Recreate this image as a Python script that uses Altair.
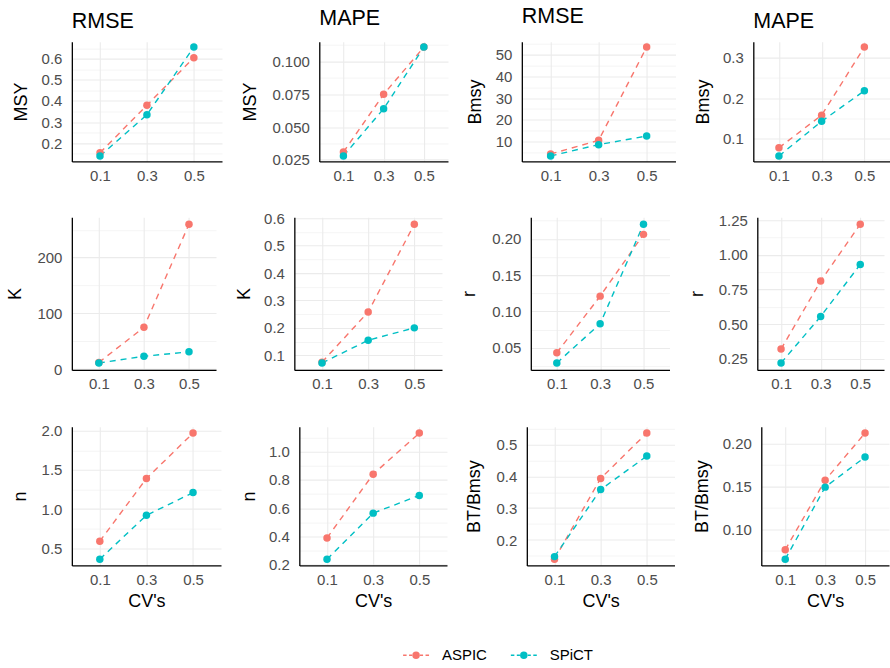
import json
import altair as alt
import pandas as pd

# ---------------- data ----------------
cv = ["0.1", "0.3", "0.5"]
models = ["ASPIC", "SPiCT"]
colors = ["#F8766D", "#00BFC4"]

msy_rmse_aspic = [0.155, 0.380, 0.605]
msy_rmse_spict = [0.140, 0.335, 0.655]
msy_mape_aspic = [0.031, 0.075, 0.111]
msy_mape_spict = [0.028, 0.064, 0.111]
bmsy_rmse_aspic = [4.2, 10.5, 53.5]
bmsy_rmse_spict = [3.3, 8.5, 12.5]
bmsy_mape_aspic = [0.078, 0.158, 0.325]
bmsy_mape_spict = [0.058, 0.143, 0.218]

k_rmse_aspic = [12, 75, 260]
k_rmse_spict = [11, 23, 31]
k_mape_aspic = [0.075, 0.258, 0.578]
k_mape_spict = [0.072, 0.155, 0.200]
r_rmse_aspic = [0.043, 0.121, 0.206]
r_rmse_spict = [0.029, 0.083, 0.220]
r_mape_aspic = [0.32, 0.81, 1.22]
r_mape_spict = [0.22, 0.555, 0.93]

n_rmse_aspic = [0.59, 1.39, 1.97]
n_rmse_spict = [0.36, 0.92, 1.21]
n_mape_aspic = [0.39, 0.84, 1.13]
n_mape_spict = [0.24, 0.565, 0.69]
btb_rmse_aspic = [0.140, 0.393, 0.535]
btb_rmse_spict = [0.148, 0.358, 0.463]
btb_mape_aspic = [0.076, 0.157, 0.212]
btb_mape_spict = [0.065, 0.149, 0.184]

# y tick labels (major breaks) per panel
msy_rmse_ticks = [0.2, 0.3, 0.4, 0.5, 0.6]
msy_mape_ticks = [0.025, 0.05, 0.075, 0.1]
bmsy_rmse_ticks = [10, 20, 30, 40, 50]
bmsy_mape_ticks = [0.1, 0.2, 0.3]
k_rmse_ticks = [0, 100, 200]
k_mape_ticks = [0.1, 0.2, 0.3, 0.4, 0.5, 0.6]
r_rmse_ticks = [0.05, 0.10, 0.15, 0.20]
r_mape_ticks = [0.25, 0.5, 0.75, 1.0, 1.25]
n_rmse_ticks = [0.5, 1.0, 1.5, 2.0]
n_mape_ticks = [0.2, 0.4, 0.6, 0.8, 1.0]
btb_rmse_ticks = [0.2, 0.3, 0.4, 0.5]
btb_mape_ticks = [0.10, 0.15, 0.20]

col_titles = ["RMSE", "MAPE", "RMSE", "MAPE"]

# (y title, ASPIC, SPiCT, y tick labels, label format)
rows = [
    [("MSY", msy_rmse_aspic, msy_rmse_spict, msy_rmse_ticks, ".1f"),
     ("MSY", msy_mape_aspic, msy_mape_spict, msy_mape_ticks, ".3f"),
     ("Bmsy", bmsy_rmse_aspic, bmsy_rmse_spict, bmsy_rmse_ticks, "d"),
     ("Bmsy", bmsy_mape_aspic, bmsy_mape_spict, bmsy_mape_ticks, ".1f")],
    [("K", k_rmse_aspic, k_rmse_spict, k_rmse_ticks, "d"),
     ("K", k_mape_aspic, k_mape_spict, k_mape_ticks, ".1f"),
     ("r", r_rmse_aspic, r_rmse_spict, r_rmse_ticks, ".2f"),
     ("r", r_mape_aspic, r_mape_spict, r_mape_ticks, ".2f")],
    [("n", n_rmse_aspic, n_rmse_spict, n_rmse_ticks, ".1f"),
     ("n", n_mape_aspic, n_mape_spict, n_mape_ticks, ".1f"),
     ("BT/Bmsy", btb_rmse_aspic, btb_rmse_spict, btb_rmse_ticks, ".1f"),
     ("BT/Bmsy", btb_mape_aspic, btb_mape_spict, btb_mape_ticks, ".2f")],
]

# ---------------- layout (pixels) ----------------
PAD_LEFT = 10
SPACING = 19
TITLE_BOX = 27          # y title height + title padding
col_right = [219.5, 445, 673, 888]          # right edge of each column's plot
axis_left = [[69, 316, 519, 751],            # left edge of each plot
             [75, 297, 534, 761],
             [70, 297, 525, 760]]
row_heights = [120, 153, 139]

FONT = "Liberation Sans"
GRID = "#EBEBEB"
LABEL_FS = 15
TITLE_FS = 18

cscale = alt.Scale(domain=models, range=colors)


def panel(spec, r, c):
    ylab, asp, spi, majors, fmt = spec
    df = pd.DataFrame({
        "cv": cv * 2,
        "model": ["ASPIC"] * 3 + ["SPiCT"] * 3,
        "value": list(asp) + list(spi),
    })
    lo, hi = df["value"].min(), df["value"].max()
    pad = (hi - lo) * 0.05
    dom = [lo - pad, hi + pad]
    step = majors[1] - majors[0]
    maj = [m for m in majors if dom[0] <= m <= dom[1]]
    minors = [m - step / 2 for m in majors] + [majors[-1] + step / 2]
    minors = [m for m in minors if dom[0] <= m <= dom[1]]
    allv = sorted(maj + minors)
    test = f"indexof({json.dumps(maj)}, datum.value) >= 0"

    a = axis_left[r][c]
    left_edge = PAD_LEFT if c == 0 else col_right[c - 1] + SPACING
    extent = a - left_edge - TITLE_BOX
    width = col_right[c] - a

    yaxis = alt.Axis(
        values=allv,
        labelExpr=f"{test} ? format(datum.value, '{fmt}') : ''",
        gridWidth={"condition": {"test": test, "value": 1.1}, "value": 0.55},
        gridColor=GRID,
        title=ylab,
        ticks=False, tickSize=0,
        labelPadding=10, titlePadding=9,
        minExtent=extent, maxExtent=extent,
        labelFontSize=LABEL_FS, labelColor="#4D4D4D", labelFont=FONT,
        titleFontSize=TITLE_FS, titleFont=FONT, titleColor="black", titleFontWeight="normal",
        domainColor="black", domainWidth=1.3,
        labelOverlap=False,
    )
    xaxis = alt.Axis(
        labelAngle=0, ticks=False, tickSize=0,
        labelPadding=7, titlePadding=5,
        gridColor=GRID, gridWidth=1.1, grid=True,
        labelFontSize=LABEL_FS, labelColor="#4D4D4D", labelFont=FONT,
        titleFontSize=TITLE_FS, titleFont=FONT, titleColor="black", titleFontWeight="normal",
        domainColor="black", domainWidth=1.3,
        title="CV's" if r == 2 else None,
    )
    x = alt.X("cv:O", sort=cv, scale=alt.Scale(type="point", padding=0.6), axis=xaxis)
    y = alt.Y("value:Q", scale=alt.Scale(domain=dom, nice=False, zero=False), axis=yaxis)

    line = alt.Chart(df).mark_line(strokeDash=[6, 5], strokeWidth=1.4).encode(
        x=x, y=y, color=alt.Color("model:N", scale=cscale, legend=None),
        detail="model:N",
    )
    pts = alt.Chart(df).mark_point(filled=True, size=56, opacity=1).encode(
        x=x, y=y, fill=alt.Fill("model:N", scale=cscale, legend=None),
    )
    ch = alt.layer(line, pts).properties(width=width, height=row_heights[r])
    if r == 0:
        ch = ch.properties(title=alt.TitleParams(
            col_titles[c], anchor="start", frame="group", fontSize=21.5,
            font=FONT, fontWeight="normal", color="black", offset=9))
    return ch


# ---------------- legend (drawn as its own small chart) ----------------
leg_df = pd.DataFrame({"model": models})
dash_path = "M-1,0L-0.73,0M-0.54,0L-0.3,0M0.3,0L0.54,0M0.73,0L1,0"
lx = alt.X("model:N", axis=None, sort=models,
           scale=alt.Scale(type="point", domain=models, range=[345, 453], padding=0))
leg_line = alt.Chart(leg_df).mark_point(
    shape=dash_path, filled=False, size=676, strokeWidth=1.4, opacity=1
).encode(x=lx, stroke=alt.Stroke("model:N", scale=cscale, legend=None))
leg_pt = alt.Chart(leg_df).mark_point(filled=True, size=56, opacity=1).encode(
    x=lx, fill=alt.Fill("model:N", scale=cscale, legend=None))
leg_txt = alt.Chart(leg_df).mark_text(
    align="left", baseline="middle", dx=26, fontSize=15, font=FONT, color="black"
).encode(x=lx, text="model:N")
leg = alt.layer(leg_line, leg_pt, leg_txt).properties(width=520, height=16)

row_charts = []
for r, specs in enumerate(rows):
    row_charts.append(alt.hconcat(*[panel(s, r, c) for c, s in enumerate(specs)], spacing=SPACING))

top = alt.vconcat(row_charts[0], row_charts[1], spacing=27)
bottom = alt.vconcat(row_charts[2], leg, spacing=37)

chart = alt.vconcat(top, bottom, spacing=29).properties(
    padding={"left": PAD_LEFT - 3, "top": 5, "right": 0, "bottom": 0},
    background="white",
).configure_view(stroke=None).configure_axis(labelFont=FONT, titleFont=FONT)

chart.save("out.html", embed_options={"renderer": "svg", "actions": False})
